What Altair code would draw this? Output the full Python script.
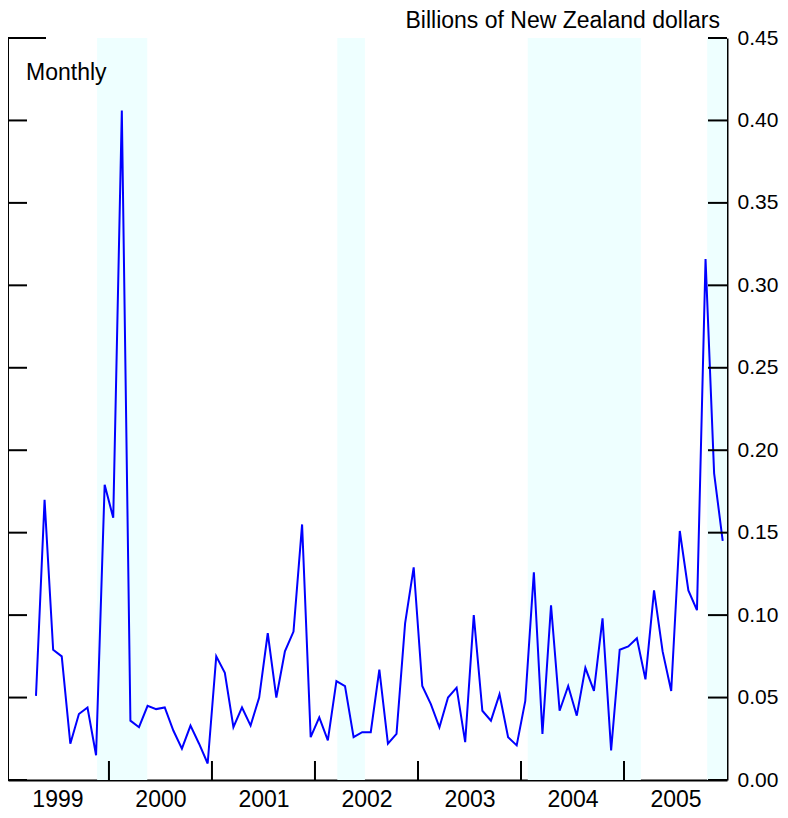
import altair as alt
import pandas as pd

# Monthly values, April 1999 .. December 2005 (billions of NZ$)
values = [
    0.051, 0.170, 0.079, 0.075, 0.022, 0.040, 0.044, 0.015, 0.179,
    0.159, 0.406, 0.036, 0.032, 0.045, 0.043, 0.044, 0.030, 0.019, 0.033, 0.022, 0.010,
    0.075, 0.065, 0.032, 0.044, 0.033, 0.050, 0.089, 0.050, 0.078, 0.090, 0.155, 0.026,
    0.038, 0.024, 0.060, 0.057, 0.026, 0.029, 0.029, 0.067, 0.022, 0.028, 0.095, 0.129,
    0.057, 0.046, 0.032, 0.050, 0.056, 0.023, 0.100, 0.042, 0.036, 0.052, 0.026, 0.021,
    0.048, 0.126, 0.028, 0.106, 0.042, 0.057, 0.039, 0.068, 0.054, 0.098, 0.018, 0.079,
    0.081, 0.086, 0.061, 0.115, 0.078, 0.054, 0.151, 0.115, 0.103, 0.316, 0.186, 0.145,
]
start_year, start_month = 1999, 4
band_start = [1999.885, 2002.217, 2004.066, 2005.808]
band_end = [2000.372, 2002.485, 2005.164, 2006.0]
year_ticks = [2000, 2001, 2002, 2003, 2004, 2005]
year_labels = [1999, 2000, 2001, 2002, 2003, 2004, 2005]
y_ticks = [0.0, 0.05, 0.10, 0.15, 0.20, 0.25, 0.30, 0.35, 0.40, 0.45]

X0, X1 = 1999.02, 2006.0
Y0, Y1 = 0.0, 0.45
W, H = 719, 742
FONT = "Liberation Sans"
FS = 23
FS_Y = 21

xs = [start_year + (start_month - 1 + i + 0.5) / 12 for i in range(len(values))]
df = pd.DataFrame({"x": xs, "v": values})
bands = pd.DataFrame({"a": band_start, "b": band_end})

tick_len_x = 19 / (W / (X1 - X0))
tick_len_y = 19 / (H / (Y1 - Y0))

xscale = alt.Scale(domain=[X0, X1], nice=False, zero=False)
yscale = alt.Scale(domain=[Y0, Y1], nice=False, zero=True)

X_AX = alt.Axis(
    values=[y + 0.5 for y in year_labels],
    labelExpr="'' + floor(datum.value)",
    ticks=False,
    grid=False,
    title=None,
    domainColor="black",
    domainWidth=2,
    labelFont=FONT,
    labelFontSize=FS,
    labelColor="black",
    labelBaseline="alphabetic",
    labelPadding=26,
)
Y_AX = alt.Axis(
    orient="right",
    values=y_ticks,
    format=".2f",
    ticks=False,
    grid=False,
    title=None,
    domainColor="black",
    domainWidth=2,
    labelFont=FONT,
    labelFontSize=FS_Y,
    labelColor="black",
    labelPadding=10,
)


def X(field):
    return alt.X(field, scale=xscale, axis=X_AX)


def Y(field):
    return alt.Y(field, scale=yscale, axis=Y_AX)


shade = alt.Chart(bands).mark_rect(color="#EEFFFF").encode(
    x=X("a:Q"),
    x2="b:Q",
    y=alt.value(0),
    y2=alt.value(H),
)

line = alt.Chart(df).mark_line(color="#0000FF", strokeWidth=2).encode(
    x=X("x:Q"), y=Y("v:Q")
)

left_df = pd.DataFrame({"y": y_ticks, "xa": X0, "xb": X0 + tick_len_x})
right_df = pd.DataFrame({"y": y_ticks, "xa": X1 - tick_len_x, "xb": X1})
left_ticks = alt.Chart(left_df).mark_rule(color="black", strokeWidth=2).encode(
    x=X("xa:Q"), x2="xb:Q", y=Y("y:Q")
)
right_ticks = alt.Chart(right_df).mark_rule(color="black", strokeWidth=2).encode(
    x=X("xa:Q"), x2="xb:Q", y=Y("y:Q")
)
bottom_df = pd.DataFrame({"x": year_ticks, "ya": 0.0, "yb": tick_len_y})
bottom_ticks = alt.Chart(bottom_df).mark_rule(color="black", strokeWidth=2).encode(
    x=X("x:Q"), y=Y("ya:Q"), y2="yb:Q"
)
top_df = pd.DataFrame({"y": [Y1], "xa": [X0], "xb": [X0 + 2 * tick_len_x]})
top_tick = alt.Chart(top_df).mark_rule(color="black", strokeWidth=2).encode(
    x=X("xa:Q"), x2="xb:Q", y=Y("y:Q")
)
left_df2 = pd.DataFrame({"x": [X0], "ya": [Y0], "yb": [Y1]})
left_axis = alt.Chart(left_df2).mark_rule(color="black", strokeWidth=2).encode(
    x=X("x:Q"), y=Y("ya:Q"), y2="yb:Q"
)

unit_text = alt.Chart(pd.DataFrame({"t": ["Billions of New Zealand dollars"]})).mark_text(
    align="right", baseline="middle", font=FONT, fontSize=FS, color="black"
).encode(text="t:N", x=alt.value(712), y=alt.value(-17))
freq_text = alt.Chart(pd.DataFrame({"t": ["Monthly"]})).mark_text(
    align="left", baseline="middle", font=FONT, fontSize=FS, color="black"
).encode(text="t:N", x=alt.value(18), y=alt.value(35))

chart = alt.layer(
    shade, line, left_axis, left_ticks, right_ticks, bottom_ticks, top_tick, unit_text, freq_text
).properties(
    width=W,
    height=H,
    autosize=alt.AutoSizeParams(type="none"),
    padding={"left": 0, "top": 30, "right": 53, "bottom": 30},
).configure_view(stroke=None)

chart.save("out.html", embed_options={"renderer": "svg", "actions": False})
